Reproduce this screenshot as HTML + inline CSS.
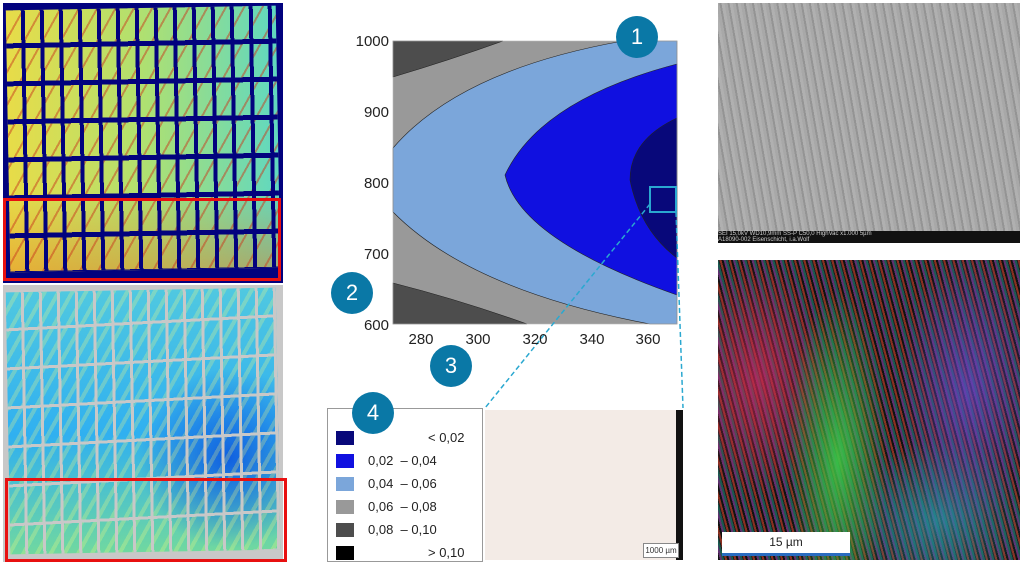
<!DOCTYPE html>
<html><head><meta charset="utf-8"><style>
body{margin:0;width:1024px;height:565px;background:#fff;position:relative;overflow:hidden;font-family:"Liberation Sans",sans-serif}
.abs{position:absolute}
.circ{position:absolute;width:42px;height:42px;border-radius:50%;background:#0a78a6;color:#fff;font-size:22px;text-align:center;line-height:42px}
.tilesA{background:
repeating-linear-gradient(90deg,transparent 0 15px,#02027e 15px 19px),
repeating-linear-gradient(180deg,transparent 0 33px,#02027e 33px 38px),
repeating-linear-gradient(120deg,transparent 0 14px,rgba(200,60,30,.5) 14px 16px),
linear-gradient(180deg,rgba(0,0,0,0) 70%,rgba(230,120,30,.45)),
linear-gradient(90deg,#e8dc48,#b0e070 50%,#60d8c0);}
.tilesB{background:
repeating-linear-gradient(90deg,transparent 0 15px,#c8c8c8 15px 18px),
repeating-linear-gradient(178deg,transparent 0 36px,#c8c8c8 36px 39px),
repeating-linear-gradient(120deg,transparent 0 8px,rgba(255,255,120,.25) 8px 12px),
radial-gradient(ellipse 90px 90px at 220px 170px,#1060e0,transparent),
linear-gradient(180deg,#50c8e0,#30b0f0 55%,#70d8a0);}
.lg{position:absolute;left:8px;width:18px;height:14px}
.lt{position:absolute;font-size:13px;color:#222}
</style></head><body>
<div class="abs" style="left:3px;top:3px;width:280px;height:280px;background:#02027e"></div>
<div class="abs tilesA" style="left:8px;top:8px;width:270px;height:262px;transform:rotate(-1deg)"></div>
<div class="abs" style="left:3px;top:198px;width:278px;height:83px;border:3px solid #e81010;box-sizing:border-box"></div>
<div class="abs" style="left:3px;top:285px;width:280px;height:277px;background:#c8c8c8"></div>
<div class="abs tilesB" style="left:8px;top:290px;width:270px;height:262px;transform:rotate(-1deg)"></div>
<div class="abs" style="left:5px;top:478px;width:282px;height:84px;border:3px solid #e81010;box-sizing:border-box"></div>

<svg class="abs" style="left:0;top:0" width="1024" height="565">
<rect x="393" y="41" width="284" height="283" fill="#999"/>
<path d="M393,41 L503,41 Q450,60 393,77 Z" fill="#4d4d4d" stroke="#222" stroke-width="0.6"/>
<path d="M393,283 Q460,300 527,324 L393,324 Z" fill="#4d4d4d" stroke="#222" stroke-width="0.6"/>
<path d="M623,41 L677,41 L677,324 L650,324 Q470,290 393,212 L393,148 Q460,70 623,41 Z" fill="#7ba6da" stroke="#222" stroke-width="0.6"/>
<path d="M677,64 Q540,100 505,175 Q520,240 677,295 Z" fill="#1010e0" stroke="#222" stroke-width="0.6"/>
<path d="M677,118 Q630,140 630,180 Q640,230 677,258 Z" fill="#08087a" stroke="#222" stroke-width="0.6"/>
<rect x="393" y="41" width="284" height="283" fill="none" stroke="#bbb" stroke-width="0.6"/>
<rect x="650" y="187" width="26" height="25" fill="none" stroke="#2aa8d0" stroke-width="2"/>
<line x1="650" y1="204" x2="485" y2="408" stroke="#2aa8d0" stroke-width="1.5" stroke-dasharray="5,3"/>
<line x1="676" y1="212" x2="683" y2="408" stroke="#2aa8d0" stroke-width="1.5" stroke-dasharray="5,3"/>
<g font-size="15" fill="#222" text-anchor="end">
<text x="389" y="46">1000</text><text x="389" y="117">900</text><text x="389" y="188">800</text><text x="389" y="259">700</text><text x="389" y="330">600</text></g>
<g font-size="15" fill="#222" text-anchor="middle">
<text x="421" y="344">280</text><text x="478" y="344">300</text><text x="535" y="344">320</text><text x="592" y="344">340</text><text x="648" y="344">360</text></g>
</svg>
<div class="circ" style="left:616px;top:16px">1</div>
<div class="circ" style="left:331px;top:272px">2</div>
<div class="circ" style="left:430px;top:345px">3</div>

<div class="abs" style="left:327px;top:408px;width:156px;height:154px;border:1px solid #999;box-sizing:border-box">
<div class="lg" style="top:22px;background:#08087a"></div><div class="lt" style="left:100px;top:21px">&lt; 0,02</div>
<div class="lg" style="top:45px;background:#1010e0"></div><div class="lt" style="left:40px;top:44px">0,02&nbsp;&nbsp;– 0,04</div>
<div class="lg" style="top:68px;background:#7ba6da"></div><div class="lt" style="left:40px;top:67px">0,04&nbsp;&nbsp;– 0,06</div>
<div class="lg" style="top:91px;background:#999"></div><div class="lt" style="left:40px;top:90px">0,06&nbsp;&nbsp;– 0,08</div>
<div class="lg" style="top:114px;background:#4d4d4d"></div><div class="lt" style="left:40px;top:113px">0,08&nbsp;&nbsp;– 0,10</div>
<div class="lg" style="top:137px;background:#000"></div><div class="lt" style="left:100px;top:136px">&gt; 0,10</div>
</div>
<div class="circ" style="left:352px;top:392px">4</div>

<div class="abs" style="left:485px;top:410px;width:198px;height:150px;background:#f3ebe6"></div>
<div class="abs" style="left:676px;top:410px;width:7px;height:150px;background:#111"></div>
<div class="abs" style="left:643px;top:543px;width:34px;height:13px;background:#fff;border:1px solid #888;font-size:8px;text-align:center;line-height:13px;color:#333">1000 µm</div>

<div class="abs" style="left:718px;top:3px;width:302px;height:240px;background:repeating-linear-gradient(80deg,#a8a8a8 0 3px,#949494 3px 5px,#b0b0b0 5px 8px)"></div>
<div class="abs" style="left:718px;top:231px;width:302px;height:12px;background:#111;color:#ccc;font-size:6px;line-height:6px">SEI 15,0kV WD10,9mm SS-P C50,0 HighVac x1.000 5µm<br>A18090-002 Eisenschicht, i.a.Wolf</div>

<div class="abs" style="left:718px;top:260px;width:302px;height:300px;background:
radial-gradient(ellipse 50px 170px at 120px 200px,rgba(60,200,70,.9),transparent),
radial-gradient(ellipse 70px 120px at 40px 120px,rgba(200,40,90,.7),transparent),
radial-gradient(ellipse 70px 140px at 250px 130px,rgba(100,70,200,.7),transparent),
radial-gradient(ellipse 90px 80px at 220px 260px,rgba(40,150,170,.7),transparent),
repeating-linear-gradient(75deg,#111 0 2px,#603070 2px 4px,#1a5a50 4px 6px,#202020 6px 7px,#8a3020 7px 9px)"></div>
<div class="abs" style="left:722px;top:532px;width:128px;height:24px;background:#fff;font-size:12px;text-align:center;line-height:20px;color:#222;border-bottom:3px solid #2a6cc0;box-sizing:border-box">15 µm</div>
</body></html>
